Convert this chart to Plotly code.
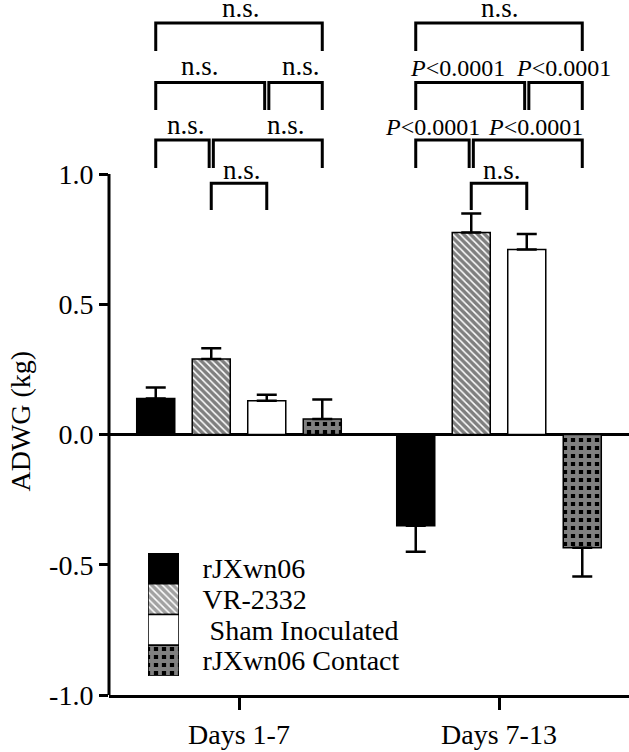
import plotly.graph_objects as go

# ---------------- data ----------------
categories = ["Days 1-7", "Days 7-13"]
series_names = ["rJXwn06", "VR-2332", "Sham Inoculated", "rJXwn06 Contact"]
rjxwn06 = [0.138, -0.35]
rjxwn06_err = [0.042, 0.10]
vr2332 = [0.29, 0.775]
vr2332_err = [0.041, 0.073]
sham = [0.13, 0.71]
sham_err = [0.023, 0.06]
contact = [0.06, -0.435]
contact_err = [0.074, 0.11]
y_tick_vals = [-1.0, -0.5, 0.0, 0.5, 1.0]
y_tick_text = ["-1.0", "-0.5", "0.0", "0.5", "1.0"]

# significance comparisons, by bracket row (top to bottom): pairs of bar indices
comparison_pairs = [[(0, 3)], [(0, 2), (2, 3)], [(0, 1), (1, 3)], [(1, 2)]]
labels_days_1_7 = [["n.s."], ["n.s.", "n.s."], ["n.s.", "n.s."], ["n.s."]]
labels_days_7_13 = [["n.s."], ["<i>P</i>&lt;0.0001", "<i>P</i>&lt;0.0001"],
                    ["<i>P</i>&lt;0.0001", "<i>P</i>&lt;0.0001"], ["n.s."]]

# ---------------- style ----------------
FONT = "Liberation Serif"
BARGAP = 0.146
BARGROUPGAP = 0.315
SLOT = (1 - BARGAP) / 4
EPS = 0.008
ROW_TOP = [1.580, 1.351, 1.131, 0.965]
ROW_LEG = [1.472, 1.246, 1.023, 0.862]
ROW_YSHIFT = [-2, 0, -2, -4]
XSHIFT = [
    [[2], [-10, 5], [4, 18], [3]],
    [[1], [-13, 8], [-10, 8], [3]],
]

values = [rjxwn06, vr2332, sham, contact]
errors = [rjxwn06_err, vr2332_err, sham_err, contact_err]
pattern_shapes = ["", "\\", "", "+"]
pattern_sizes = [6, 5, 6, 8]
pattern_solid = [0.4, 0.7, 0.4, 0.72]
bar_colors = ["black", "white", "white", "black"]
pattern_fg = ["black", "black", "black", "white"]
x_pos = list(range(len(categories)))

fig = go.Figure()

for i, (name, vals, errs) in enumerate(zip(series_names, values, errors)):
    plus = [e if v >= 0 else 0 for v, e in zip(vals, errs)]
    minus = [e if v < 0 else 0 for v, e in zip(vals, errs)]
    fig.add_trace(go.Bar(
        x=x_pos, y=vals, name=name, showlegend=False,
        marker=dict(color=bar_colors[i], line=dict(color="black", width=1.5),
                    pattern=dict(shape=pattern_shapes[i], fgcolor=pattern_fg[i],
                                 size=pattern_sizes[i], solidity=pattern_solid[i])),
        error_y=dict(type="data", symmetric=False, array=plus, arrayminus=minus,
                     color="black", thickness=2.5, width=10),
    ))


def bar_x(c, k):
    return x_pos[c] + (k - 1.5) * SLOT


# brackets
bx, by = [], []
annotations = []
for c, group_labels in enumerate([labels_days_1_7, labels_days_7_13]):
    for r, pairs in enumerate(comparison_pairs):
        starts = [p[0] for p in pairs]
        ends = [p[1] for p in pairs]
        for j, (a, b) in enumerate(pairs):
            xl = bar_x(c, a) + (EPS if a in ends else 0)
            xr = bar_x(c, b) - (EPS if b in starts else 0)
            bx += [xl, xl, xr, xr, None]
            by += [ROW_LEG[r], ROW_TOP[r], ROW_TOP[r], ROW_LEG[r], None]
            txt = group_labels[r][j]
            annotations.append(dict(
                x=(xl + xr) / 2, y=ROW_TOP[r], xref="x", yref="y",
                text=txt, showarrow=False, xanchor="center", yanchor="bottom",
                xshift=XSHIFT[c][r][j], yshift=ROW_YSHIFT[r],
                font=dict(family=FONT, size=24 if "P" in txt else 27, color="black"),
            ))

fig.add_trace(go.Scatter(x=bx, y=by, mode="lines", showlegend=False,
                         line=dict(color="black", width=3), hoverinfo="skip"))

# custom legend swatches on a small subplot
fig.add_trace(go.Bar(
    y=series_names, x=[1, 1, 1, 1], orientation="h", width=1, base=0,
    xaxis="x2", yaxis="y2", showlegend=False,
    marker=dict(color=bar_colors, line=dict(color="black", width=1.5),
                pattern=dict(shape=pattern_shapes, fgcolor=pattern_fg,
                             size=pattern_sizes, solidity=pattern_solid)),
))

annotations.append(dict(
    x=-0.171, y=0.05, xref="paper", yref="y", text="ADWG (kg)", textangle=-90,
    showarrow=False, xanchor="center", yanchor="middle",
    font=dict(family=FONT, size=28, color="black"),
))

legend_ticktext = [("\u00a0" + n if n.startswith("Sham") else n) for n in series_names]

fig.update_layout(
    width=629, height=752,
    margin=dict(l=109, r=0, t=0, b=57),
    paper_bgcolor="white", plot_bgcolor="white",
    barmode="group", bargap=BARGAP, bargroupgap=BARGROUPGAP,
    font=dict(family=FONT, size=28, color="black"),
    showlegend=False,
    annotations=annotations,
    shapes=[dict(type="line", xref="paper", yref="y", x0=0, x1=0, y0=-1, y1=1,
                 line=dict(color="black", width=3))],
    xaxis=dict(range=[-0.5, 1.5], tickmode="array", tickvals=x_pos, ticktext=categories,
               showline=True, linewidth=3,
               linecolor="black", ticks="outside", ticklen=12, tickwidth=3,
               tickcolor="black", showgrid=False, zeroline=False,
               tickfont=dict(family=FONT, size=28)),
    yaxis=dict(range=[-1, 1.668], tickmode="array", tickvals=y_tick_vals, ticktext=y_tick_text,
               ticks="outside", ticklen=9, tickwidth=3, tickcolor="black",
               showline=False, showgrid=False, zeroline=True, zerolinewidth=3,
               zerolinecolor="black", tickfont=dict(family=FONT, size=28)),
    xaxis2=dict(domain=[0.075, 0.1346], range=[0, 1], anchor="y2", visible=False),
    yaxis2=dict(domain=[0.0273, 0.2043], anchor="x2", type="category",
                autorange="reversed", side="right", showline=False, showgrid=False,
                zeroline=False, ticks="outside", ticklen=17,
                tickmode="array", tickvals=series_names, ticktext=legend_ticktext,
                tickcolor="rgba(0,0,0,0)", tickfont=dict(family=FONT, size=28)),
)

fig.write_html("out.html", config={"displayModeBar": False},
               post_script="document.body.style.margin='0';")
